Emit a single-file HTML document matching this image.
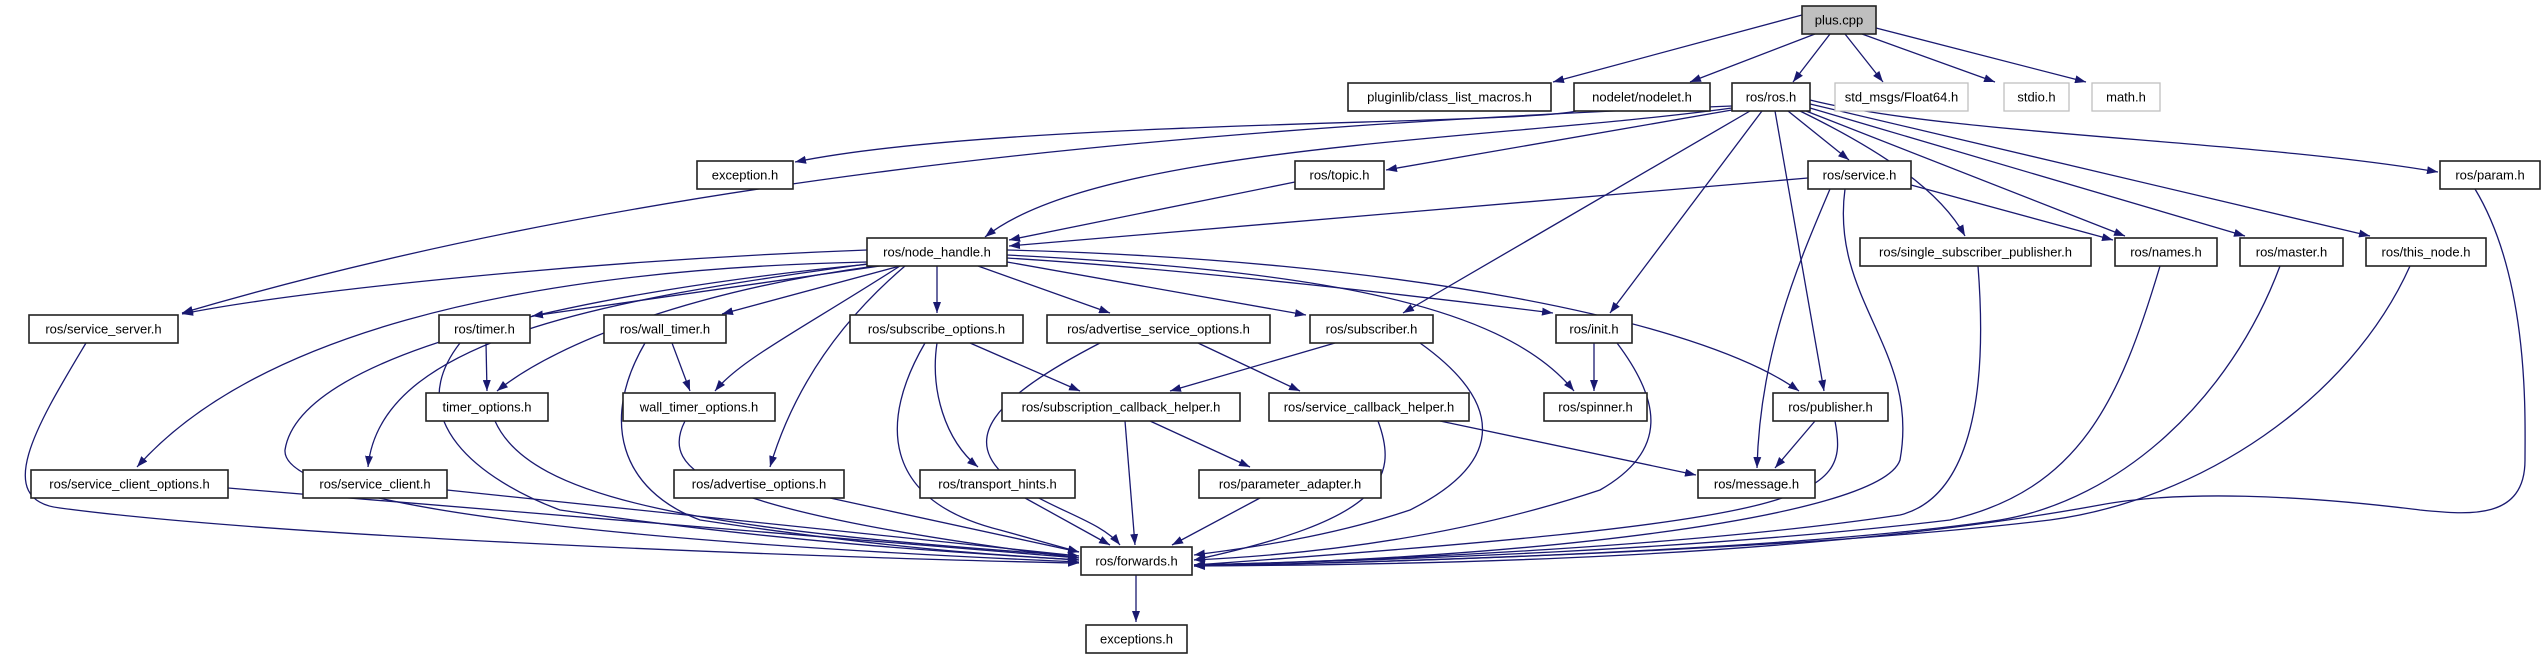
<!DOCTYPE html>
<html><head><meta charset="utf-8"><style>
html,body{margin:0;padding:0;background:#fff;}
svg{display:block}
text{font-family:"Liberation Sans","DejaVu Sans",sans-serif;font-size:13px;text-anchor:middle;fill:#000}
.e{fill:none;stroke:#191970;stroke-width:1.3;marker-end:url(#ar)}
.n{fill:#fff;stroke:#222;stroke-width:1.6}
.g{fill:#fff;stroke:#c0c0c0;stroke-width:1.3}
</style></head><body>
<svg width="2545" height="659" viewBox="0 0 2545 659" xmlns="http://www.w3.org/2000/svg">
<defs><marker id="ar" markerUnits="userSpaceOnUse" markerWidth="11" markerHeight="8" refX="11" refY="4" orient="auto"><path d="M0,0 L11,4 L0,8 z" fill="#191970"/></marker></defs>
<g>
<path class="e" d="M1802,15 L1553,82"/>
<path class="e" d="M1815,34 L1690,82"/>
<path class="e" d="M1830,34 L1793,82"/>
<path class="e" d="M1845,34 L1883,82"/>
<path class="e" d="M1862,34 L1995,82"/>
<path class="e" d="M1876,28 L2086,82"/>
<path class="e" d="M1576,111 C1520,125 1000,120 795,162"/>
<path class="e" d="M1732,110 L1386,170"/>
<path class="e" d="M1732,108 C1500,140 1100,145 985,237"/>
<path class="e" d="M1295,182 L1009,240"/>
<path class="e" d="M1808,178 L1009,246"/>
<path class="e" d="M1732,106 C1100,130 600,190 182,313"/>
<path class="e" d="M1750,111 L1403,313"/>
<path class="e" d="M1762,111 L1610,313"/>
<path class="e" d="M1775,111 L1824,391"/>
<path class="e" d="M1788,111 L1849,160"/>
<path class="e" d="M1800,111 C1880,150 1940,190 1965,236"/>
<path class="e" d="M1806,111 L2125,236"/>
<path class="e" d="M1810,108 L2245,236"/>
<path class="e" d="M1810,104 L2370,236"/>
<path class="e" d="M1810,100 C1950,135 2250,140 2438,172"/>
<path class="e" d="M1911,185 L2113,240"/>
<path class="e" d="M1830,189 C1800,260 1760,350 1757,468"/>
<path class="e" d="M1845,189 C1830,300 1920,350 1900,460 C1880,520 1500,560 1194,565"/>
<path class="e" d="M2475,189 C2530,280 2525,420 2525,460 C2525,520 2470,515 2420,510 C2300,495 2180,490 2100,505 C1800,560 1400,565 1194,566"/>
<path class="e" d="M1978,266 C1990,420 1960,500 1900,515 C1700,545 1400,560 1194,565"/>
<path class="e" d="M2160,266 C2120,400 2080,490 1950,520 C1700,550 1400,560 1194,565"/>
<path class="e" d="M2280,266 C2230,400 2120,500 2000,520 C1800,550 1400,562 1194,566"/>
<path class="e" d="M2410,266 C2350,400 2200,500 2050,520 C1800,550 1400,562 1194,566"/>
<path class="e" d="M867,250 C600,260 300,290 182,314"/>
<path class="e" d="M880,266 L532,316"/>
<path class="e" d="M900,266 L722,314"/>
<path class="e" d="M937,266 L937,313"/>
<path class="e" d="M978,266 L1110,313"/>
<path class="e" d="M1007,262 L1306,315"/>
<path class="e" d="M1007,258 C1200,270 1450,300 1553,313"/>
<path class="e" d="M1007,255 C1300,270 1500,300 1574,391"/>
<path class="e" d="M1007,250 C1400,260 1700,320 1799,391"/>
<path class="e" d="M875,266 C700,290 560,340 497,391"/>
<path class="e" d="M900,266 C800,330 740,360 715,391"/>
<path class="e" d="M867,262 C500,270 250,340 137,467"/>
<path class="e" d="M867,264 C600,300 380,340 368,467"/>
<path class="e" d="M905,266 C830,330 790,400 770,467"/>
<path class="e" d="M870,264 C600,290 300,350 285,450 C280,520 800,550 1079,562"/>
<path class="e" d="M86,343 C40,420 -10,500 60,508 C300,540 900,560 1079,563"/>
<path class="e" d="M486,343 L487,391"/>
<path class="e" d="M460,343 C400,420 480,480 560,510 C800,545 1000,555 1079,560"/>
<path class="e" d="M672,343 L690,391"/>
<path class="e" d="M645,343 C600,420 620,490 700,520 C900,550 1000,555 1079,560"/>
<path class="e" d="M970,343 L1080,391"/>
<path class="e" d="M937,343 C930,390 945,440 978,467"/>
<path class="e" d="M925,343 C880,420 880,500 1000,530 L1079,552"/>
<path class="e" d="M1198,343 L1300,391"/>
<path class="e" d="M1100,343 C990,400 960,440 1010,480 C1050,510 1100,520 1120,545"/>
<path class="e" d="M1335,343 L1170,391"/>
<path class="e" d="M1420,343 C1500,400 1510,460 1410,510 C1320,540 1230,550 1194,555"/>
<path class="e" d="M1594,343 L1594,391"/>
<path class="e" d="M1617,343 C1660,400 1670,450 1600,490 C1450,540 1300,555 1194,560"/>
<path class="e" d="M495,421 C530,500 700,530 1079,556"/>
<path class="e" d="M685,421 C660,470 700,510 1079,558"/>
<path class="e" d="M1150,421 L1250,467"/>
<path class="e" d="M1125,421 L1135,545"/>
<path class="e" d="M1440,421 L1696,475"/>
<path class="e" d="M1378,421 C1400,480 1380,520 1194,560"/>
<path class="e" d="M1815,421 L1775,468"/>
<path class="e" d="M1835,421 C1850,500 1820,520 1194,565"/>
<path class="e" d="M228,488 L1079,558"/>
<path class="e" d="M447,490 L1079,556"/>
<path class="e" d="M830,498 L1079,552"/>
<path class="e" d="M1025,498 L1110,545"/>
<path class="e" d="M1260,498 L1172,545"/>
<path class="e" d="M1136,575 L1136,622"/>
</g>
<g>
<rect x="1802" y="6" width="74" height="28" fill="#bfbfbf" stroke="#222" stroke-width="1.6"/><text x="1839" y="24.5">plus.cpp</text>
<rect class="n" x="1348" y="83" width="203" height="28"/><text x="1449.5" y="101.5">pluginlib/class_list_macros.h</text>
<rect class="n" x="1574" y="83" width="136" height="28"/><text x="1642" y="101.5">nodelet/nodelet.h</text>
<rect class="n" x="1732" y="83" width="78" height="28"/><text x="1771" y="101.5">ros/ros.h</text>
<rect class="g" x="1835" y="83" width="133" height="28"/><text x="1901.5" y="101.5">std_msgs/Float64.h</text>
<rect class="g" x="2004" y="83" width="65" height="28"/><text x="2036.5" y="101.5">stdio.h</text>
<rect class="g" x="2092" y="83" width="68" height="28"/><text x="2126" y="101.5">math.h</text>
<rect class="n" x="697" y="161" width="96" height="28"/><text x="745" y="179.5">exception.h</text>
<rect class="n" x="1295" y="161" width="89" height="28"/><text x="1339.5" y="179.5">ros/topic.h</text>
<rect class="n" x="1808" y="161" width="103" height="28"/><text x="1859.5" y="179.5">ros/service.h</text>
<rect class="n" x="2440" y="161" width="100" height="28"/><text x="2490" y="179.5">ros/param.h</text>
<rect class="n" x="867" y="238" width="140" height="28"/><text x="937" y="256.5">ros/node_handle.h</text>
<rect class="n" x="1860" y="238" width="231" height="28"/><text x="1975.5" y="256.5">ros/single_subscriber_publisher.h</text>
<rect class="n" x="2115" y="238" width="102" height="28"/><text x="2166" y="256.5">ros/names.h</text>
<rect class="n" x="2240" y="238" width="103" height="28"/><text x="2291.5" y="256.5">ros/master.h</text>
<rect class="n" x="2366" y="238" width="120" height="28"/><text x="2426" y="256.5">ros/this_node.h</text>
<rect class="n" x="29" y="315" width="149" height="28"/><text x="103.5" y="333.5">ros/service_server.h</text>
<rect class="n" x="439" y="315" width="91" height="28"/><text x="484.5" y="333.5">ros/timer.h</text>
<rect class="n" x="604" y="315" width="122" height="28"/><text x="665" y="333.5">ros/wall_timer.h</text>
<rect class="n" x="850" y="315" width="173" height="28"/><text x="936.5" y="333.5">ros/subscribe_options.h</text>
<rect class="n" x="1047" y="315" width="223" height="28"/><text x="1158.5" y="333.5">ros/advertise_service_options.h</text>
<rect class="n" x="1310" y="315" width="123" height="28"/><text x="1371.5" y="333.5">ros/subscriber.h</text>
<rect class="n" x="1556" y="315" width="76" height="28"/><text x="1594" y="333.5">ros/init.h</text>
<rect class="n" x="426" y="393" width="122" height="28"/><text x="487" y="411.5">timer_options.h</text>
<rect class="n" x="623" y="393" width="152" height="28"/><text x="699" y="411.5">wall_timer_options.h</text>
<rect class="n" x="1002" y="393" width="238" height="28"/><text x="1121" y="411.5">ros/subscription_callback_helper.h</text>
<rect class="n" x="1269" y="393" width="200" height="28"/><text x="1369" y="411.5">ros/service_callback_helper.h</text>
<rect class="n" x="1544" y="393" width="103" height="28"/><text x="1595.5" y="411.5">ros/spinner.h</text>
<rect class="n" x="1773" y="393" width="115" height="28"/><text x="1830.5" y="411.5">ros/publisher.h</text>
<rect class="n" x="31" y="470" width="197" height="28"/><text x="129.5" y="488.5">ros/service_client_options.h</text>
<rect class="n" x="303" y="470" width="144" height="28"/><text x="375" y="488.5">ros/service_client.h</text>
<rect class="n" x="674" y="470" width="170" height="28"/><text x="759" y="488.5">ros/advertise_options.h</text>
<rect class="n" x="920" y="470" width="155" height="28"/><text x="997.5" y="488.5">ros/transport_hints.h</text>
<rect class="n" x="1199" y="470" width="182" height="28"/><text x="1290" y="488.5">ros/parameter_adapter.h</text>
<rect class="n" x="1698" y="470" width="117" height="28"/><text x="1756.5" y="488.5">ros/message.h</text>
<rect class="n" x="1081" y="547" width="111" height="28"/><text x="1136.5" y="565.5">ros/forwards.h</text>
<rect class="n" x="1086" y="625" width="101" height="28"/><text x="1136.5" y="643.5">exceptions.h</text>
</g>
</svg>
</body></html>
